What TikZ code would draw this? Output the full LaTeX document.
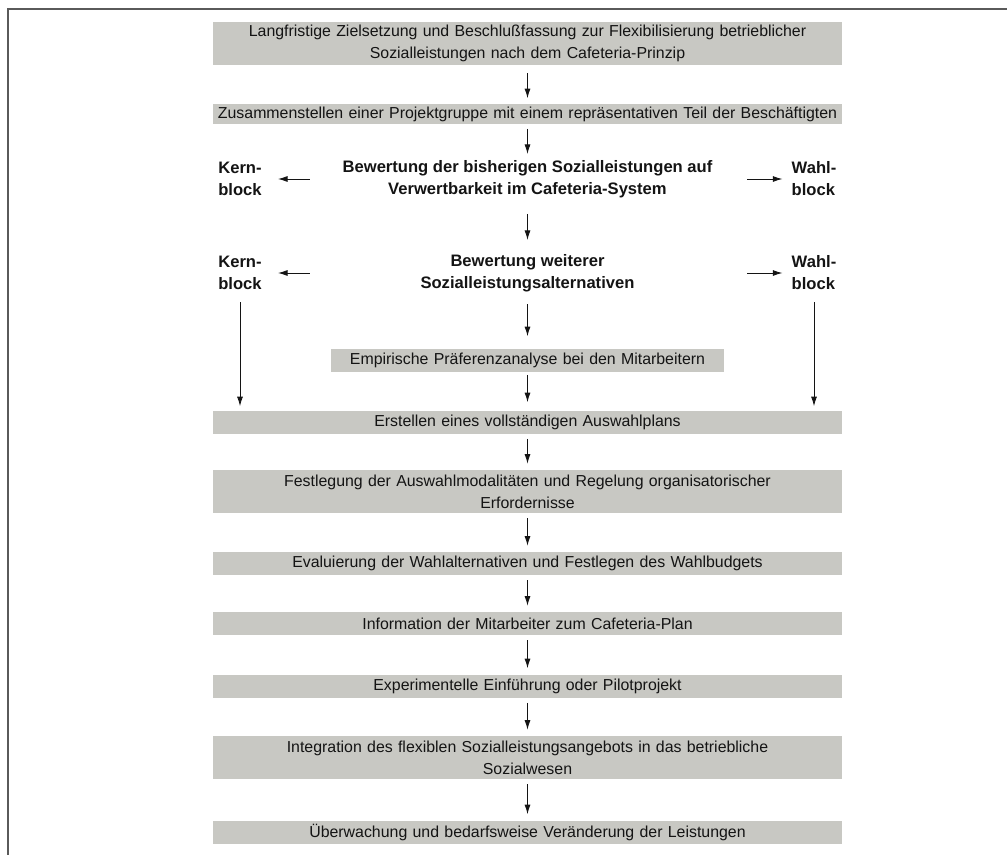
\documentclass[tikz,border=0pt]{standalone}
\usepackage{fontspec}
\setmainfont{Liberation Sans}
\usetikzlibrary{arrows.meta,positioning}
\definecolor{boxgray}{RGB}{200,200,195}
\definecolor{framegray}{RGB}{90,90,90}
\definecolor{inkblack}{RGB}{20,20,20}
\begin{document}
\begin{tikzpicture}[x=0.025cm, y=-0.025cm,
  every node/.style = {font=\fontsize{11.3}{15.6}\selectfont, text=inkblack,
      align=center, inner sep=0pt},
  stepbox/.style = {fill=boxgray, text width=15.725cm, minimum height=0.575cm},
  twoline/.style = {minimum height=1.075cm},
  rowtext/.style = {font=\fontsize{11.8}{15.6}\selectfont\bfseries},
  sidebox/.style = {font=\fontsize{11.8}{15.6}\selectfont\bfseries, align=left},
  arr/.style = {draw=inkblack, line width=0.65pt,
      -{Latex[length=2.4mm,width=1.5mm]},
      shorten <=0.125cm, shorten >=0.15cm}
  ]
  \useasboundingbox (0,0) rectangle (1007,855);
  \draw[framegray, line width=1.3pt] (8,855) -- (8,9) -- (1007,9);
  %
  \node[stepbox, twoline] (ziel) at (527.5,43.5)
    {Langfristige Zielsetzung und Beschlußfassung zur Flexibilisierung betrieblicher\\
     Sozialleistungen nach dem Cafeteria-Prinzip};
  \node[stepbox, minimum height=0.475cm] (projekt) at (527.5,114)
    {Zusammenstellen einer Projektgruppe mit einem repräsentativen Teil der Beschäftigten};
  \node[rowtext] (bisher) at (527.5,179)
    {Bewertung der bisherigen Sozialleistungen auf\\Verwertbarkeit im Cafeteria-System};
  \node[sidebox] (kern1) at (240,179) {Kern-\\block};
  \node[sidebox] (wahl1) at (814,179) {Wahl-\\block};
  \node[rowtext] (weitere) at (527.5,273)
    {Bewertung weiterer\\Sozialleistungsalternativen};
  \node[sidebox] (kern2) at (240,273) {Kern-\\block};
  \node[sidebox] (wahl2) at (814,273) {Wahl-\\block};
  \node[stepbox, text width=9.8cm] (praef) at (527.5,360)
    {Empirische Präferenzanalyse bei den Mitarbeitern};
  \node[stepbox] (plan) at (527.5,422) {Erstellen eines vollständigen Auswahlplans};
  \node[stepbox, twoline] (modal) at (527.5,491.5)
    {Festlegung der Auswahlmodalitäten und Regelung organisatorischer\\Erfordernisse};
  \node[stepbox] (budget) at (527.5,563.5)
    {Evaluierung der Wahlalternativen und Festlegen des Wahlbudgets};
  \node[stepbox] (info) at (527.5,623.5) {Information der Mitarbeiter zum Cafeteria-Plan};
  \node[stepbox] (pilot) at (527.5,686) {Experimentelle Einführung oder Pilotprojekt};
  \node[stepbox, twoline] (integ) at (527.5,757.5)
    {Integration des flexiblen Sozialleistungsangebots in das betriebliche\\Sozialwesen};
  \node[stepbox] (ueberw) at (527.5,832)
    {Überwachung und bedarfsweise Veränderung der Leistungen};
  %
  \draw[arr, shorten <=0.2cm] (ziel) -- (projekt);
  \draw[arr] (projekt) -- (bisher);
  \draw[arr, shorten <=0.4cm, shorten >=0.35cm] (bisher) -- (weitere);
  \draw[arr, shorten <=0.3cm, shorten >=0.3cm] (weitere) -- (praef);
  \draw[arr, shorten <=0.08cm, shorten >=0.2cm] (praef) -- (plan);
  \foreach \a/\b in {plan/modal, modal/budget, budget/info, info/pilot,
                     pilot/integ, integ/ueberw}
    \draw[arr] (\a) -- (\b);
  %
  \foreach \k/\w in {kern1/wahl1, kern2/wahl2} {
    \draw[arr, shorten <=0pt, shorten >=0.4cm] ([xshift=1.2cm]\k.east) -- (\k.east);
    \draw[arr, shorten <=0pt, shorten >=0.225cm] ([xshift=-1.1cm]\w.west) -- (\w.west);
  }
  \draw[arr, shorten <=0.3cm, shorten >=0.1cm] (kern2.south) -- (kern2.south |- plan.north);
  \draw[arr, shorten <=0.3cm, shorten >=0.1cm] (wahl2.south) -- (wahl2.south |- plan.north);
\end{tikzpicture}
\end{document}
